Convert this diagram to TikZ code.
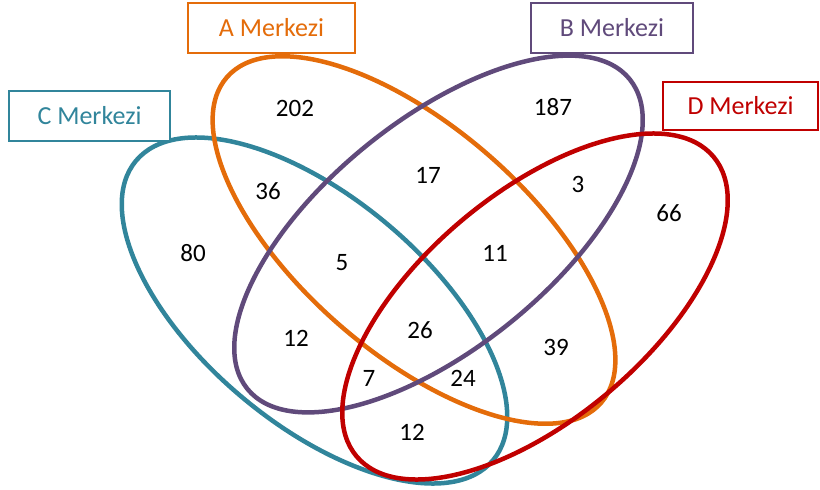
\documentclass[tikz,border=0pt]{standalone}
\usepackage{fontspec}
\setmainfont{Carlito}
\usepackage{tikz}
\usepackage{xcolor}
\definecolor{setA}{RGB}{228,108,10}
\definecolor{setB}{RGB}{96,74,123}
\definecolor{setC}{RGB}{49,133,155}
\definecolor{setD}{RGB}{192,0,0}
\tikzset{%
	every set/.style={
		line width=4.5pt
	},
	set label/.style={
		draw,
		fill=white,
		line width=1.6pt,
		inner sep=0pt,
		minimum height=50pt,
		font=\fontsize{26}{30}\selectfont
	},
	count/.style={
		inner sep=1pt,
		font=\fontsize{25}{30}\selectfont
	},
}

\begin{document}
\begin{tikzpicture}[x=1pt, y=-1pt]
				\useasboundingbox (0,0) rectangle (820,490);
				% Sets
				\foreach \cx/\cy/\ang/\rx/\ry/\col in {314.5/310.5/-40/233/113/setC,
					414/240/-41/248/113/setA, 438.5/234/39/246/114/setB,
					535/306.5/40/233/113/setD}
				{
					\draw[every set, \col, rotate around={\ang:(\cx,\cy)}]
						(\cx,\cy) ellipse [x radius=\rx, y radius=\ry];
				}
				% Labels
				\node[set label, draw=setA, text=setA, minimum width=167pt] (labelA) at (271.5,28) {A Merkezi};
				\node[set label, draw=setB, text=setB, minimum width=162pt] (labelB) at (612,28) {B Merkezi};
				\node[set label, draw=setC, text=setC, minimum width=161pt] (labelC) at (89.5,116) {C Merkezi};
				\node[set label, draw=setD, text=setD, minimum width=155pt, minimum height=48pt] (labelD) at (740.5,106) {D Merkezi};
				% Counts
				\foreach \x/\y/\val/\name in {295/108/202/onlyA, 553/107/187/onlyB,
					193/253/80/onlyC, 669/213/66/onlyD, 268/191/36/AC, 428/175/17/AB,
					578/184/3/BD, 342/263/5/ABC, 495/253/11/ABD, 296/338/12/BC,
					420/330/26/ABCD, 556/347/39/AD, 369/378/7/BCD, 463/378/24/ACD,
					412/432/12/CD}
				{
					\node[count] (\name) at (\x,\y) {\val};
				}
\end{tikzpicture}
\end{document}
